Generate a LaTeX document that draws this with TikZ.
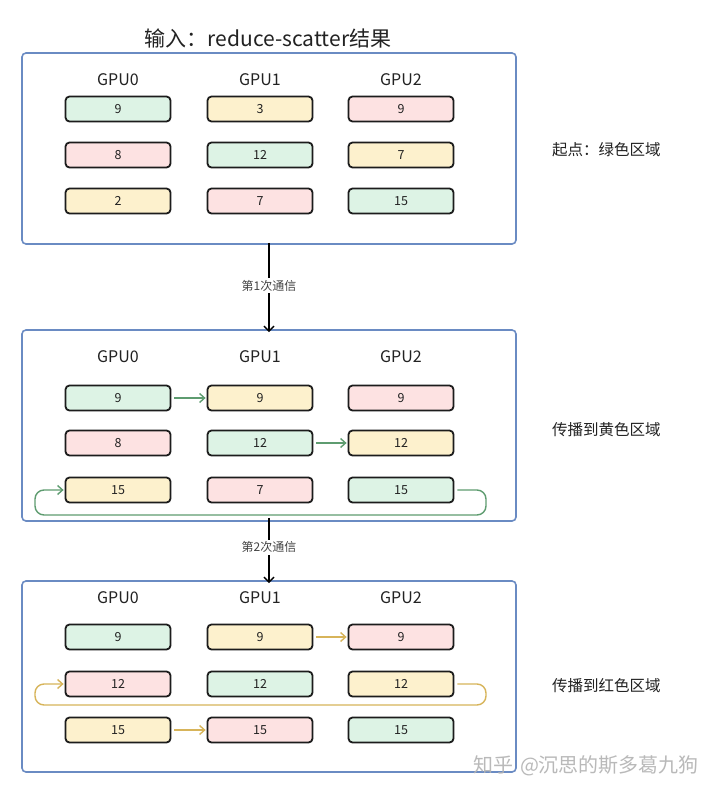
\documentclass[tikz,border=0pt]{standalone}
\usepackage{fontspec}
\setmainfont{Noto Sans CJK SC}
\usetikzlibrary{arrows.meta}
\definecolor{gfill}{HTML}{DDF3E5}
\definecolor{yfill}{HTML}{FDF1CD}
\definecolor{rfill}{HTML}{FDE2E2}
\definecolor{garrowc}{HTML}{5E9C70}
\definecolor{yarrowc}{HTML}{D7B45A}
\definecolor{panelc}{HTML}{6A8BC3}
\definecolor{cellc}{HTML}{1C1C1C}
\definecolor{textc}{HTML}{222222}
\tikzset{
  panel/.style={draw=panelc, line width=1.6pt, rounded corners=4pt, minimum width=494pt, minimum height=191pt, inner sep=0pt},
  cell/.style={draw=cellc, line width=1.8pt, rounded corners=4pt, minimum width=105pt, minimum height=25pt, inner sep=0pt, font=\fontsize{12.5}{14}\selectfont, text=textc},
  gpulab/.style={font=\fontsize{16}{18}\selectfont, text=textc},
  sidelab/.style={font=\fontsize{15.5}{18}\selectfont, text=textc, anchor=west, inner sep=0pt},
  commlab/.style={font=\fontsize{12}{14}\selectfont, text=textc!85, fill=white, inner sep=2pt},
  garr/.style={draw=garrowc, line width=1.4pt, -{Straight Barb[length=5pt,width=9pt]}},
  yarr/.style={draw=yarrowc, line width=1.4pt, -{Straight Barb[length=5pt,width=9pt]}},
  commarr/.style={draw=black, line width=1.5pt, -{Straight Barb[length=5pt,width=10pt]}},
}
\begin{document}
\begin{tikzpicture}[x=1pt,y=-1pt]
\useasboundingbox (0,0) rectangle (720,795);
\fill[white] (0,0) rectangle (720,795);

\node[font=\fontsize{21}{24}\selectfont, text=textc] (title) at (268,38) {输入：reduce-scatter结果};

% ---------- Panel 1 ----------
\node[panel] (p1) at (269,148.5) {};
\node[gpulab] (g10) at (118,80) {GPU0};
\node[gpulab] (g11) at (260,80) {GPU1};
\node[gpulab] (g12) at (401,80) {GPU2};
\node[cell, fill=gfill] (a00) at (118,109) {9};
\node[cell, fill=yfill] (a10) at (260,109) {3};
\node[cell, fill=rfill] (a20) at (401,109) {9};
\node[cell, fill=rfill] (a01) at (118,155) {8};
\node[cell, fill=gfill] (a11) at (260,155) {12};
\node[cell, fill=yfill] (a21) at (401,155) {7};
\node[cell, fill=yfill] (a02) at (118,201) {2};
\node[cell, fill=rfill] (a12) at (260,201) {7};
\node[cell, fill=gfill] (a22) at (401,201) {15};
\node[sidelab] (s1) at (552,150) {起点：绿色区域};

% ---------- Panel 2 ----------
\node[panel] (p2) at (269,425.5) {};
\node[gpulab] (g20) at (118,357) {GPU0};
\node[gpulab] (g21) at (260,357) {GPU1};
\node[gpulab] (g22) at (401,357) {GPU2};
\node[cell, fill=gfill] (b00) at (118,398) {9};
\node[cell, fill=yfill] (b10) at (260,398) {9};
\node[cell, fill=rfill] (b20) at (401,398) {9};
\node[cell, fill=rfill] (b01) at (118,443) {8};
\node[cell, fill=gfill] (b11) at (260,443) {12};
\node[cell, fill=yfill] (b21) at (401,443) {12};
\node[cell, fill=yfill] (b02) at (118,490) {15};
\node[cell, fill=rfill] (b12) at (260,490) {7};
\node[cell, fill=gfill] (b22) at (401,490) {15};
\node[sidelab] (s2) at (552,430) {传播到黄色区域};
\draw[garr] ([xshift=3pt]b00.east) -- ([xshift=-1pt]b10.west);
\draw[garr] ([xshift=3pt]b11.east) -- ([xshift=-1pt]b21.west);
\coordinate (l2a) at (486,490);
\coordinate (l2b) at (486,515);
\coordinate (l2c) at (35,515);
\coordinate (l2d) at (35,490);
\draw[garr, rounded corners=9pt] ([xshift=3pt]b22.east) -- (l2a) -- (l2b) -- (l2c) -- (l2d) -- ([xshift=-1pt]b02.west);

% ---------- Panel 3 ----------
\node[panel] (p3) at (269,676.5) {};
\node[gpulab] (g30) at (118,598) {GPU0};
\node[gpulab] (g31) at (260,598) {GPU1};
\node[gpulab] (g32) at (401,598) {GPU2};
\node[cell, fill=gfill] (c00) at (118,637) {9};
\node[cell, fill=yfill] (c10) at (260,637) {9};
\node[cell, fill=rfill] (c20) at (401,637) {9};
\node[cell, fill=rfill] (c01) at (118,684) {12};
\node[cell, fill=gfill] (c11) at (260,684) {12};
\node[cell, fill=yfill] (c21) at (401,684) {12};
\node[cell, fill=yfill] (c02) at (118,730) {15};
\node[cell, fill=rfill] (c12) at (260,730) {15};
\node[cell, fill=gfill] (c22) at (401,730) {15};
\node[sidelab] (s3) at (552,686) {传播到红色区域};
\draw[yarr] ([xshift=3pt]c10.east) -- ([xshift=-1pt]c20.west);
\draw[yarr] ([xshift=3pt]c02.east) -- ([xshift=-1pt]c12.west);
\coordinate (l3a) at (486,684);
\coordinate (l3b) at (486,705);
\coordinate (l3c) at (35,705);
\coordinate (l3d) at (35,684);
\draw[yarr, rounded corners=9pt] ([xshift=3pt]c21.east) -- (l3a) -- (l3b) -- (l3c) -- (l3d) -- ([xshift=-1pt]c01.west);

% ---------- Communication arrows ----------
\draw[commarr] ([yshift=2pt]p1.south) -- node[commlab, pos=0.48] (t1) {第1次通信} ([yshift=-3pt]p2.north);
\draw[commarr] ([yshift=4pt]p2.south) -- node[commlab, pos=0.45] (t2) {第2次通信} ([yshift=-3pt]p3.north);

% ---------- watermark ----------
\node[font=\fontsize{20}{22}\selectfont, text=black!30, opacity=0.9] (wm) at (586,766) {知乎\hspace{7pt}@沉思的斯多葛九狗};
\end{tikzpicture}
\end{document}
